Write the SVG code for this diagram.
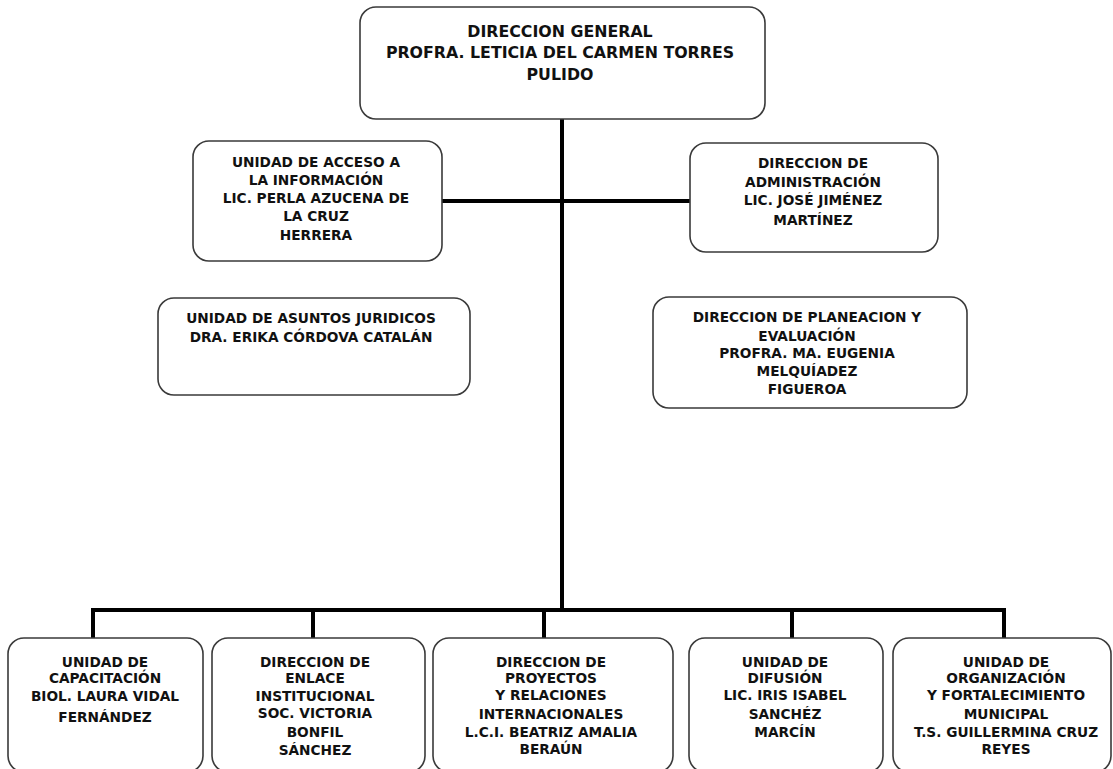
<svg xmlns="http://www.w3.org/2000/svg" width="1113" height="769" viewBox="0 0 1113 769">
<style>
.box{fill:#fff;stroke:#3a3a3a;stroke-width:1.6}
.t{font-family:"DejaVu Sans","Liberation Sans",Arial,sans-serif;font-weight:bold;font-size:13.7px;fill:#111;text-anchor:middle}
.big{font-size:15.8px}
.ln{stroke:#000;stroke-width:4;fill:none}
</style>
<rect width="1113" height="769" fill="#fff"/>
<g id="connectors">
<line class="ln" x1="562" y1="119" x2="562" y2="612"/>
<line class="ln" x1="442" y1="201" x2="690" y2="201"/>
<polyline class="ln" points="93,638 93,610 1004,610 1004,638"/>
<line class="ln" x1="313" y1="610" x2="313" y2="638"/>
<line class="ln" x1="544" y1="610" x2="544" y2="638"/>
<line class="ln" x1="792" y1="610" x2="792" y2="638"/>
</g>
<g id="n-general">
<rect class="box" x="360" y="7" width="405" height="112" rx="16"/>
<text class="t big" x="560" y="37">DIRECCION GENERAL</text>
<text class="t big" x="560" y="58">PROFRA. LETICIA DEL CARMEN TORRES</text>
<text class="t big" x="560" y="80">PULIDO</text>
</g>
<g id="n-acceso">
<rect class="box" x="193" y="141" width="249" height="120" rx="16"/>
<text class="t" x="316" y="167">UNIDAD DE ACCESO  A</text>
<text class="t" x="316" y="185">LA INFORMACIÓN</text>
<text class="t" x="316" y="203">LIC. PERLA AZUCENA DE</text>
<text class="t" x="316" y="221">LA CRUZ</text>
<text class="t" x="316" y="240">HERRERA</text>
</g>
<g id="n-administracion">
<rect class="box" x="690" y="143" width="248" height="109" rx="16"/>
<text class="t" x="813" y="168">DIRECCION DE</text>
<text class="t" x="813" y="187">ADMINISTRACIÓN</text>
<text class="t" x="813" y="205">LIC. JOSÉ JIMÉNEZ</text>
<text class="t" x="813" y="225">MARTÍNEZ</text>
</g>
<g id="n-juridicos">
<rect class="box" x="158" y="298" width="312" height="97" rx="16"/>
<text class="t" x="311" y="323">UNIDAD DE ASUNTOS JURIDICOS</text>
<text class="t" x="311" y="342">DRA. ERIKA CÓRDOVA CATALÁN</text>
</g>
<g id="n-planeacion">
<rect class="box" x="653" y="297" width="314" height="111" rx="16"/>
<text class="t" x="807" y="322">DIRECCION DE PLANEACION Y</text>
<text class="t" x="807" y="341">EVALUACIÓN</text>
<text class="t" x="807" y="358">PROFRA. MA. EUGENIA</text>
<text class="t" x="807" y="376">MELQUÍADEZ</text>
<text class="t" x="807" y="394">FIGUEROA</text>
</g>
<g id="n-capacitacion">
<rect class="box" x="8" y="638" width="195" height="134" rx="16"/>
<text class="t" x="105" y="667">UNIDAD DE</text>
<text class="t" x="105" y="683">CAPACITACIÓN</text>
<text class="t" x="105" y="701">BIOL. LAURA VIDAL</text>
<text class="t" x="105" y="722">FERNÁNDEZ</text>
</g>
<g id="n-enlace">
<rect class="box" x="212" y="638" width="213" height="134" rx="16"/>
<text class="t" x="315" y="667">DIRECCION DE</text>
<text class="t" x="315" y="683">ENLACE</text>
<text class="t" x="315" y="701">INSTITUCIONAL</text>
<text class="t" x="315" y="718">SOC. VICTORIA</text>
<text class="t" x="315" y="737">BONFIL</text>
<text class="t" x="315" y="755">SÁNCHEZ</text>
</g>
<g id="n-proyectos">
<rect class="box" x="433" y="638" width="240" height="134" rx="16"/>
<text class="t" x="551" y="667">DIRECCION DE</text>
<text class="t" x="551" y="683">PROYECTOS</text>
<text class="t" x="551" y="700">Y RELACIONES</text>
<text class="t" x="551" y="719">INTERNACIONALES</text>
<text class="t" x="551" y="737">L.C.I. BEATRIZ AMALIA</text>
<text class="t" x="551" y="754">BERAÚN</text>
</g>
<g id="n-difusion">
<rect class="box" x="689" y="638" width="194" height="134" rx="16"/>
<text class="t" x="785" y="667">UNIDAD DE</text>
<text class="t" x="785" y="683">DIFUSIÓN</text>
<text class="t" x="785" y="700">LIC. IRIS ISABEL</text>
<text class="t" x="785" y="719">SANCHÉZ</text>
<text class="t" x="785" y="737">MARCÍN</text>
</g>
<g id="n-organizacion">
<rect class="box" x="893" y="638" width="218" height="134" rx="16"/>
<text class="t" x="1006" y="667">UNIDAD DE</text>
<text class="t" x="1006" y="683">ORGANIZACIÓN</text>
<text class="t" x="1006" y="700">Y  FORTALECIMIENTO</text>
<text class="t" x="1006" y="719">MUNICIPAL</text>
<text class="t" x="1006" y="737">T.S. GUILLERMINA CRUZ</text>
<text class="t" x="1006" y="754">REYES</text>
</g>
</svg>
